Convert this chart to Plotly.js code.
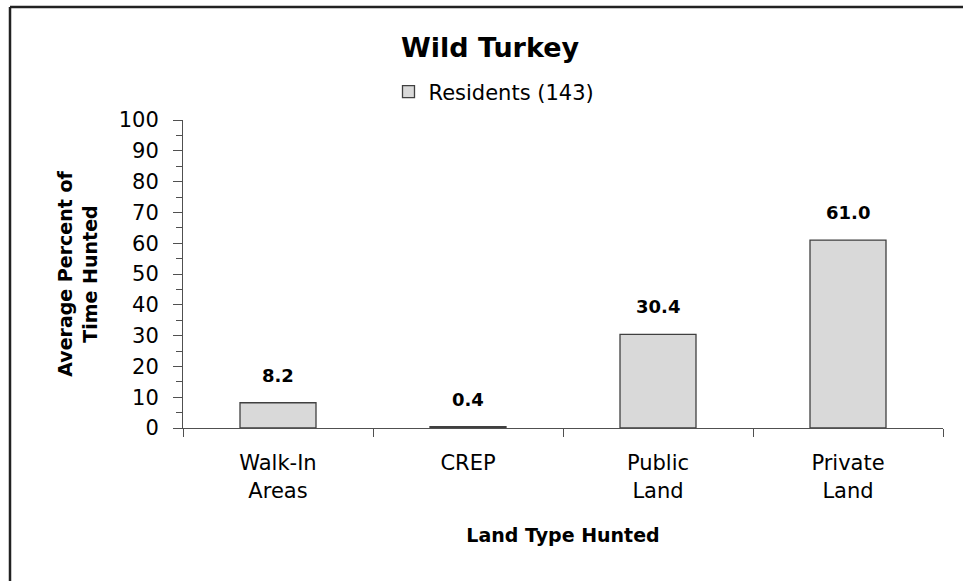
<!DOCTYPE html>
<html>
<head>
<meta charset="utf-8">
<script src="https://cdn.plot.ly/plotly-3.0.1.min.js"></script>
<style>
html,body{margin:0;padding:0;background:#fff;}
#chart{width:963px;height:581px;}
</style>
</head>
<body>
<div id="chart"></div>
<script>
const categories = ["Walk-In<br>Areas", "CREP", "Public<br>Land", "Private<br>Land"];
const residents = [8.2, 0.4, 30.4, 61.0];
const seriesName = "Residents (143)";
const yTicks = [0, 10, 20, 30, 40, 50, 60, 70, 80, 90, 100];

const FONT = "'DejaVu Sans', sans-serif";
const W = 963, H = 581;
const M = {l: 183, r: 20, t: 120, b: 153};
const pw = W - M.l - M.r, ph = H - M.t - M.b;
// border in paper coords (left at x=10, top at y=7)
const bx0 = (10 - M.l) / pw, by1 = 1 + (M.t - 7) / ph;
const bx1 = 1 + (M.r + 20) / pw, by0 = -(M.b + 20) / ph;

const trace = {
  type: "bar",
  x: categories,
  y: residents,
  name: seriesName,
  marker: {color: "#d9d9d9", line: {color: "#404040", width: 1.3}},
  width: 0.4,
  hoverinfo: "x+y"
};

const annotations = categories.map((c, i) => ({
  x: c, y: residents[i], xref: "x", yref: "y",
  text: "<b>" + residents[i].toFixed(1) + "</b>", showarrow: false,
  yanchor: "bottom", yshift: 15,
  font: {family: FONT, size: 18, color: "#000"}
}));

const layout = {
  width: W, height: H,
  margin: M,
  paper_bgcolor: "#fff", plot_bgcolor: "#fff",
  font: {family: FONT, color: "#000"},
  title: {text: "<b>Wild Turkey</b>", xref: "container", x: 490 / W, xanchor: "center",
          yref: "container", y: 1 - 48 / H, yanchor: "middle",
          font: {family: FONT, size: 27, color: "#000"}},
  showlegend: true,
  legend: {orientation: "h", xref: "container", x: 494 / W, xanchor: "center",
           yref: "container", y: 1 - 92 / H, yanchor: "middle",
           font: {family: FONT, size: 21, color: "#000"}, itemwidth: 30},
  xaxis: {
    type: "category",
    showline: true, linecolor: "#505050", linewidth: 1,
    ticks: "outside", tickson: "boundaries", ticklen: 8, tickcolor: "#505050",
    tickfont: {family: FONT, size: 21, color: "#000"},
    ticklabelstandoff: 16,
    showgrid: false, zeroline: false,
    title: {text: "<b>Land Type Hunted</b>", standoff: 27,
            font: {family: FONT, size: 19, color: "#000"}}
  },
  yaxis: {
    range: [0, 100],
    tickvals: yTicks,
    showline: true, linecolor: "#505050", linewidth: 1,
    ticks: "outside", ticklen: 9, tickcolor: "#505050",
    minor: {dtick: 5, ticks: "outside", ticklen: 6, tickcolor: "#505050", showgrid: false},
    tickfont: {family: FONT, size: 21, color: "#000"},
    ticklabelstandoff: 10,
    showgrid: false, zeroline: false,
    title: {text: "<b>Average Percent of<br>Time Hunted</b>", standoff: 16,
            font: {family: FONT, size: 19, color: "#000"}}
  },
  yaxis2: {
    overlaying: "y", side: "left", anchor: "x", range: [0, 100],
    tickvals: yTicks, ticks: "inside", ticklen: 8, tickcolor: "#505050",
    showticklabels: false, showline: false, showgrid: false, zeroline: false
  },
  annotations: annotations,
  shapes: [
    {type: "line", xref: "paper", yref: "paper", x0: bx0, x1: bx0, y0: by0, y1: by1,
     line: {color: "#222", width: 2.5}},
    {type: "line", xref: "paper", yref: "paper", x0: bx0, x1: bx1, y0: by1, y1: by1,
     line: {color: "#222", width: 2.5}}
  ]
};

Plotly.newPlot("chart", [trace], layout, {displayModeBar: false, staticPlot: true});
</script>
</body>
</html>
